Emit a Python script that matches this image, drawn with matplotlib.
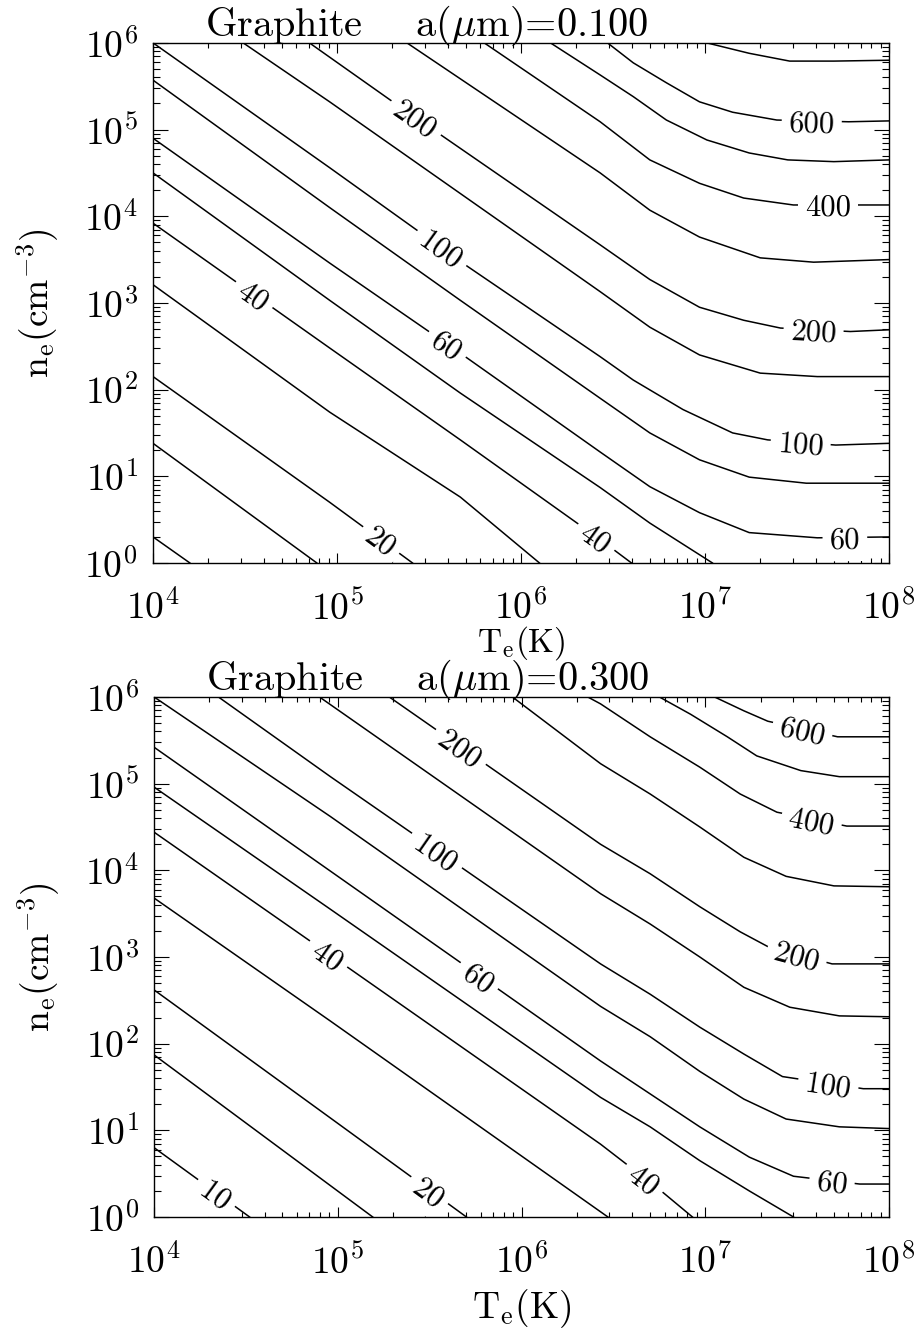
import numpy as np
import matplotlib.pyplot as plt
from matplotlib.ticker import LogLocator, NullFormatter

plt.rcParams['font.family'] = 'serif'
plt.rcParams['font.serif'] = ['cmr10']
plt.rcParams['mathtext.fontset'] = 'cm'
plt.rcParams['axes.formatter.use_mathtext'] = True

# contour lines, as log10(T_e) and log10(n_e)
# panel a: a = 0.100 micron
levels_a = [10, 15, 20, 30, 40, 50, 60, 80, 100, 150, 200, 300, 400, 500, 600, 700]
logT_a = [
    [4.00, 4.20],
    [4.00, 4.89],
    [4.00, 4.96, 5.41],
    [4.00, 4.96, 5.67, 6.10],
    [4.00, 4.96, 5.67, 6.43, 6.60],
    [4.00, 4.96, 5.67, 6.43, 6.70, 7.04],
    [4.00, 4.96, 5.67, 6.43, 6.70, 6.97, 7.24, 7.61, 8.00],
    [4.00, 4.96, 5.67, 6.43, 6.70, 6.97, 7.24, 7.55, 8.00],
    [4.00, 4.96, 5.71, 6.43, 6.61, 6.88, 7.15, 7.34, 7.71, 8.00],
    [4.49, 4.96, 6.43, 6.70, 6.97, 7.30, 7.61, 8.00],
    [4.85, 5.29, 6.43, 6.70, 6.97, 7.21, 7.41, 7.79, 8.00],
    [5.38, 6.43, 6.70, 6.97, 7.30, 7.59, 8.00],
    [5.80, 6.43, 6.70, 6.97, 7.21, 7.48, 7.86, 8.00],
    [6.16, 6.43, 6.61, 6.79, 7.01, 7.24, 7.45, 7.70, 8.00],
    [6.47, 6.61, 6.79, 6.97, 7.15, 7.39, 7.78, 8.00],
    [7.01, 7.24, 7.46, 7.70, 8.00],
]
logn_a = [
    [0.30, 0.00],
    [1.38, 0.00],
    [2.15, 0.70, 0.00],
    [3.21, 1.74, 0.76, 0.00],
    [3.92, 2.48, 1.42, 0.27, 0.00],
    [4.50, 3.03, 1.96, 0.87, 0.46, 0.00],
    [4.90, 3.46, 2.42, 1.28, 0.88, 0.58, 0.35, 0.29, 0.30],
    [5.57, 4.10, 3.03, 1.90, 1.50, 1.19, 0.99, 0.92, 0.92],
    [6.00, 4.56, 3.42, 2.38, 2.11, 1.77, 1.50, 1.42, 1.36, 1.38],
    [6.00, 5.32, 3.13, 2.72, 2.40, 2.19, 2.15, 2.15],
    [6.00, 5.34, 3.67, 3.27, 2.95, 2.80, 2.71, 2.67, 2.69],
    [6.00, 4.50, 4.07, 3.76, 3.52, 3.47, 3.50],
    [6.00, 5.09, 4.65, 4.38, 4.21, 4.13, 4.13, 4.13],
    [6.00, 5.63, 5.38, 5.11, 4.88, 4.73, 4.65, 4.63, 4.65],
    [6.00, 5.77, 5.54, 5.32, 5.20, 5.11, 5.09, 5.10],
    [6.00, 5.88, 5.79, 5.79, 5.80],
]
label_lev_a = [200, 100, 60, 40, 20, 40, 60, 100, 200, 400, 600]
label_T_a = [5.43, 5.57, 5.60, 4.55, 5.24, 6.41, 7.76, 7.52, 7.59, 7.67, 7.58]

# panel b: a = 0.300 micron
levels_b = [10, 15, 20, 30, 40, 50, 60, 80, 100, 150, 200, 300, 400, 500, 600]
logT_b = [
    [4.00, 4.52],
    [4.00, 5.19],
    [4.00, 5.00, 5.70],
    [4.00, 4.96, 6.47],
    [4.00, 4.96, 6.43, 6.76, 6.93],
    [4.00, 4.96, 6.43, 6.70, 6.97, 7.24, 7.48],
    [4.00, 4.96, 6.43, 6.70, 6.97, 7.24, 7.48, 7.84, 8.00],
    [4.00, 4.96, 6.43, 6.70, 6.97, 7.21, 7.44, 7.73, 8.00],
    [4.35, 4.96, 6.43, 6.70, 6.97, 7.21, 7.42, 7.86, 8.00],
    [4.90, 6.43, 6.70, 6.97, 7.21, 7.46, 7.73, 8.00],
    [5.28, 6.43, 6.70, 6.97, 7.19, 7.34, 7.69, 8.00],
    [5.95, 6.43, 6.70, 6.97, 7.21, 7.44, 7.70, 8.00],
    [6.36, 6.43, 6.70, 6.97, 7.19, 7.39, 7.77, 8.00],
    [6.75, 6.92, 7.12, 7.28, 7.52, 7.73, 8.00],
    [7.05, 7.21, 7.34, 7.72, 8.00],
]
logn_b = [
    [0.80, 0.00],
    [1.87, 0.00],
    [2.62, 1.08, 0.00],
    [3.68, 2.26, 0.00],
    [4.44, 3.02, 0.84, 0.30, 0.00],
    [4.96, 3.55, 1.38, 1.04, 0.65, 0.30, 0.00],
    [5.42, 3.99, 1.80, 1.42, 1.04, 0.69, 0.47, 0.38, 0.38],
    [6.00, 4.62, 2.43, 2.08, 1.68, 1.36, 1.13, 1.04, 1.02],
    [6.00, 5.08, 2.92, 2.57, 2.19, 1.88, 1.62, 1.48, 1.48],
    [6.00, 3.73, 3.38, 3.00, 2.65, 2.42, 2.32, 2.31],
    [6.00, 4.30, 3.96, 3.58, 3.29, 3.12, 2.92, 2.92],
    [6.00, 5.23, 4.88, 4.50, 4.15, 3.93, 3.82, 3.81],
    [6.00, 5.92, 5.54, 5.19, 4.88, 4.67, 4.51, 4.51],
    [6.00, 5.80, 5.54, 5.32, 5.15, 5.08, 5.08],
    [6.00, 5.84, 5.72, 5.54, 5.54],
]
label_lev_b = [200, 100, 60, 40, 10, 20, 40, 60, 100, 200, 400, 600]
label_T_b = [5.67, 5.54, 5.77, 4.95, 4.34, 5.50, 6.67, 7.69, 7.67, 7.50, 7.58, 7.53]


def draw_panel(ax, levels, logT, logn, lab_lev, lab_T, title, italic, xlab_y, xlab_size):
    ax.set_xscale('log')
    ax.set_yscale('log')
    ax.set_xlim(1e4, 1e8)
    ax.set_ylim(1, 1e6)

    for xs, ys in zip(logT, logn):
        ax.plot(10**np.array(xs), 10**np.array(ys), color='black', lw=1.1)

    # inline labels, rotated along the line, white box cuts the line
    for lev, lx in zip(lab_lev, lab_T):
        i = levels.index(lev)
        xs, ys = np.array(logT[i]), np.array(logn[i])
        ly = np.interp(lx, xs, ys)
        d = 0.04
        p0 = ax.transData.transform((10**(lx - d), 10**np.interp(lx - d, xs, ys)))
        p1 = ax.transData.transform((10**(lx + d), 10**np.interp(lx + d, xs, ys)))
        ang = np.degrees(np.arctan2(p1[1] - p0[1], p1[0] - p0[0]))
        txt = r'$\mathit{%d}$' % lev if italic else str(lev)
        ax.text(10**lx, 10**ly, txt, rotation=ang, rotation_mode='anchor',
                ha='center', va='center_baseline', fontsize=22, zorder=5,
                bbox=dict(facecolor='white', edgecolor='none', pad=5))

    ax.xaxis.set_major_locator(LogLocator(base=10, numticks=10))
    ax.xaxis.set_minor_locator(LogLocator(base=10, subs=np.arange(2, 10), numticks=50))
    ax.yaxis.set_major_locator(LogLocator(base=10, numticks=10))
    ax.yaxis.set_minor_locator(LogLocator(base=10, subs=np.arange(2, 10), numticks=50))
    ax.xaxis.set_minor_formatter(NullFormatter())
    ax.yaxis.set_minor_formatter(NullFormatter())

    ax.tick_params(which='both', direction='in', top=True, right=True, width=0.8)
    ax.tick_params(axis='x', which='major', length=7.5, pad=19, labelsize=27)
    ax.tick_params(axis='x', which='minor', length=3.8)
    ax.tick_params(axis='y', which='major', length=10.5, pad=11, labelsize=27)
    ax.tick_params(axis='y', which='minor', length=5.2)
    for s in ax.spines.values():
        s.set_linewidth(1.0)
        s.set_zorder(6)

    ax.set_xlabel(r'T$_{\rm e}$(K)', fontsize=xlab_size)
    ax.set_ylabel(r'n$_{\rm e}$(cm$^{-3}$)', fontsize=27)
    ax.xaxis.set_label_coords(0.5, xlab_y)
    ax.yaxis.set_label_coords(-0.125, 0.5)
    ax.text(0.071, 1.013, title, transform=ax.transAxes, fontsize=29,
            ha='left', va='baseline')


fig = plt.figure(figsize=(9.23, 13.28), dpi=100)
ax1 = fig.add_axes([0.1658, 0.5761, 0.7974, 0.3916])
ax2 = fig.add_axes([0.1669, 0.0836, 0.7963, 0.3916])

draw_panel(ax1, levels_a, logT_a, logn_a, label_lev_a, label_T_a,
           r'Graphite    a($\mu$m)=0.100', False, -0.117, 24)
draw_panel(ax2, levels_b, logT_b, logn_b, label_lev_b, label_T_b,
           r'Graphite    a($\mu$m)=0.300', True, -0.135, 27)

fig.savefig('out.png', dpi=100)
